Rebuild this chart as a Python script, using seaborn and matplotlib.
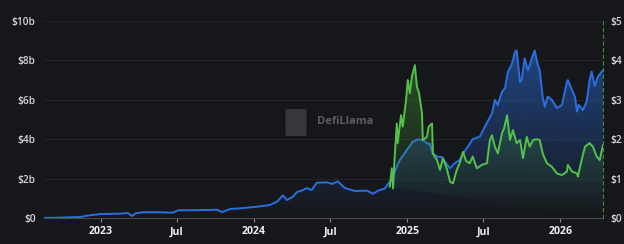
import numpy as np
import pandas as pd
import matplotlib
matplotlib.use("Agg")
import matplotlib.pyplot as plt
import matplotlib.dates as mdates
import seaborn as sns
from matplotlib.patches import PathPatch
from matplotlib.path import Path

# ---- data ----
tvl_dates = ["2022-08-18", "2022-09-25", "2022-11-12", "2022-11-29", "2022-12-30", "2023-02-15",
             "2023-03-06", "2023-03-16", "2023-03-25", "2023-04-11", "2023-05-22", "2023-06-22",
             "2023-07-04", "2023-08-25", "2023-10-05", "2023-10-17", "2023-11-05", "2023-11-29",
             "2024-01-08", "2024-02-08", "2024-02-25", "2024-03-10", "2024-03-20", "2024-04-03",
             "2024-04-13", "2024-04-24", "2024-05-06", "2024-05-18", "2024-05-30", "2024-06-23",
             "2024-07-05", "2024-07-19", "2024-08-05", "2024-08-29", "2024-09-27", "2024-10-11",
             "2024-10-23", "2024-11-08", "2024-11-16", "2024-11-25", "2024-12-07", "2024-12-14",
             "2024-12-31", "2025-01-14", "2025-01-26", "2025-02-07", "2025-02-17", "2025-02-24",
             "2025-03-03", "2025-03-15", "2025-03-24", "2025-04-01", "2025-04-13", "2025-04-24",
             "2025-05-06", "2025-05-14", "2025-05-23", "2025-06-06", "2025-06-23", "2025-07-05",
             "2025-07-22", "2025-07-29", "2025-08-05", "2025-08-15", "2025-08-22", "2025-08-29",
             "2025-09-07", "2025-09-15", "2025-09-19", "2025-09-27", "2025-10-01", "2025-10-08",
             "2025-10-16", "2025-10-25", "2025-11-01", "2025-11-08", "2025-11-13", "2025-11-20",
             "2025-11-25", "2025-12-02", "2025-12-12", "2025-12-24", "2026-01-05", "2026-01-17",
             "2026-01-19", "2026-01-29", "2026-02-05", "2026-02-10", "2026-02-14", "2026-02-24",
             "2026-03-05", "2026-03-12", "2026-03-17", "2026-03-24", "2026-04-01", "2026-04-10",
             "2026-04-13"]
tvl_values = [0.0, 0.02, 0.05, 0.12, 0.2, 0.22,
              0.25, 0.1, 0.24, 0.29, 0.29, 0.27,
              0.39, 0.4, 0.42, 0.3, 0.46, 0.49,
              0.57, 0.66, 0.83, 1.15, 0.91, 1.08,
              1.32, 1.39, 1.52, 1.42, 1.79, 1.81,
              1.73, 1.86, 1.52, 1.37, 1.39, 1.23,
              1.39, 1.49, 1.73, 1.93, 2.6, 2.94,
              3.45, 3.87, 3.99, 3.96, 3.79, 3.76,
              3.25, 3.11, 3.1, 2.86, 2.52, 2.78,
              2.94, 3.28, 3.54, 4.0, 4.13, 4.63,
              5.31, 5.99, 5.74, 6.41, 6.58, 7.43,
              7.77, 8.44, 8.5, 6.9, 7.0, 8.1,
              7.5, 8.1, 8.5, 7.8, 7.5, 6.16,
              5.65, 6.16, 6.0, 5.58, 5.74, 6.92,
              7.0, 6.5, 6.16, 5.4, 5.74, 5.48,
              5.9, 7.0, 7.43, 6.7, 7.17, 7.43,
              7.5]

price_dates = ["2024-11-20", "2024-11-25", "2024-11-28", "2024-12-02", "2024-12-07", "2024-12-09",
               "2024-12-17", "2024-12-21", "2024-12-29", "2025-01-02", "2025-01-07", "2025-01-12",
               "2025-01-19", "2025-01-24", "2025-01-29", "2025-02-05", "2025-02-07", "2025-02-17",
               "2025-02-21", "2025-03-01", "2025-03-03", "2025-03-13", "2025-03-20", "2025-03-27",
               "2025-04-05", "2025-04-13", "2025-04-20", "2025-04-29", "2025-05-06", "2025-05-14",
               "2025-05-21", "2025-05-30", "2025-06-06", "2025-06-16", "2025-06-28", "2025-07-10",
               "2025-07-17", "2025-07-22", "2025-07-29", "2025-08-05", "2025-08-15", "2025-08-20",
               "2025-08-27", "2025-09-03", "2025-09-10", "2025-09-19", "2025-09-27", "2025-10-04",
               "2025-10-13", "2025-10-20", "2025-10-28", "2025-11-06", "2025-11-13", "2025-11-20",
               "2025-11-30", "2025-12-12", "2025-12-24", "2026-01-05", "2026-01-17", "2026-01-19",
               "2026-01-29", "2026-02-10", "2026-02-12", "2026-02-21", "2026-03-01", "2026-03-12",
               "2026-03-20", "2026-03-29", "2026-04-05", "2026-04-13"]
price_values = [0.79, 1.26, 0.75, 1.56, 2.4, 1.9,
                2.61, 2.32, 2.99, 3.5, 3.17, 3.59,
                3.88, 3.33, 3.17, 2.66, 1.98, 2.06,
                2.32, 2.4, 1.64, 1.47, 1.22, 1.52,
                1.26, 0.92, 0.88, 1.22, 1.39, 1.68,
                1.45, 1.39, 1.56, 1.26, 1.35, 1.39,
                1.98, 2.1, 1.81, 1.64, 2.15, 2.28,
                2.61, 1.98, 2.23, 1.9, 1.98, 1.52,
                2.06, 1.81, 1.98, 2.0, 1.98, 1.64,
                1.39, 1.3, 1.13, 1.09, 1.18, 1.35,
                1.18, 1.13, 1.05, 1.47, 1.81, 1.9,
                1.81, 1.56, 1.47, 1.85]

left_ticks = [0, 2, 4, 6, 8, 10]
left_labels = ["$0", "$2b", "$4b", "$6b", "$8b", "$10b"]
right_ticks = [0, 1, 2, 3, 4, 5]
right_labels = ["$0", "$1", "$2", "$3", "$4", "$5"]
x_tick_dates = ["2023-01-01", "2023-07-01", "2024-01-01", "2024-07-01",
                "2025-01-01", "2025-07-01", "2026-01-01"]
x_tick_labels = ["2023", "Jul", "2024", "Jul", "2025", "Jul", "2026"]

# ---- style ----
BG = "#16171a"
BLUE = "#2a6fe0"
GREEN = "#52c24a"
TXT = "#d4d5d8"
GRID = "#222327"

sns.set_theme(style="dark")
plt.rcParams["font.family"] = ["Open Sans", "DejaVu Sans"]

tvl = pd.DataFrame({"date": pd.to_datetime(tvl_dates), "value": tvl_values})
price = pd.DataFrame({"date": pd.to_datetime(price_dates), "value": price_values})

fig = plt.figure(figsize=(6.24, 2.44), dpi=100, facecolor=BG)
ax = fig.add_axes([44 / 624, 1 - 218 / 244, (603 - 44) / 624, (218 - 21) / 244])
ax.set_facecolor(BG)
ax2 = ax.twinx()

xmin = pd.Timestamp("2022-08-18")
xmax = pd.Timestamp("2026-04-13")


def gradient_fill(axis, df, rgb, a_top, a_bot, ytop, z):
    x = mdates.date2num(df["date"])
    y = df["value"].to_numpy()
    n = 256
    alphas = np.linspace(a_bot, a_top, n)
    img = np.zeros((n, 1, 4))
    img[:, 0, :3] = matplotlib.colors.to_rgb(rgb)
    img[:, 0, 3] = alphas
    im = axis.imshow(img, aspect="auto", origin="lower",
                     extent=[x.min(), x.max(), 0, ytop], zorder=z, interpolation="bilinear")
    verts = np.vstack([np.column_stack([x, y]), [[x.max(), 0], [x.min(), 0]]])
    path = Path(verts, closed=True)
    patch = PathPatch(path, facecolor="none", edgecolor="none", transform=axis.transData)
    axis.add_patch(patch)
    im.set_clip_path(patch)


gradient_fill(ax, tvl, "#2a6fe0", 0.62, 0.0, 10, 1)
sns.lineplot(data=tvl, x="date", y="value", ax=ax, color=BLUE, linewidth=1.4, zorder=3)
gradient_fill(ax2, price, "#4aa83c", 0.5, 0.0, 5, 1)
sns.lineplot(data=price, x="date", y="value", ax=ax2, color=GREEN, linewidth=1.4, zorder=3)

for a in (ax, ax2):
    a.set_xlim(xmin, xmax)
    a.set_xlabel("")
    a.set_ylabel("")
    for s in a.spines.values():
        s.set_visible(False)

ax.set_ylim(0, 10)
ax2.set_ylim(0, 5)
ax.set_yticks(left_ticks)
ax.set_yticklabels(left_labels)
ax2.set_yticks(right_ticks)
ax2.set_yticklabels(right_labels)
ax.set_xticks(pd.to_datetime(x_tick_dates))
ax.set_xticklabels(x_tick_labels)

ax.grid(axis="y", color=GRID, linewidth=0.8)
ax.grid(axis="x", visible=False)
ax2.grid(False)

ax.tick_params(axis="y", length=0, pad=6, labelsize=7.3, labelcolor=TXT)
ax2.tick_params(axis="y", length=0, pad=5, labelsize=7.3, labelcolor=TXT)
ax.tick_params(axis="x", length=3, width=0.8, color="#8a8b8e", pad=3,
               labelsize=7.6, labelcolor="#f0f0f0", direction="out", bottom=True)
for lbl in ax.get_xticklabels():
    lbl.set_fontweight("bold")
for lbl in ax.get_yticklabels() + ax2.get_yticklabels():
    lbl.set_fontweight("semibold")

ax.spines["bottom"].set_visible(True)
ax.spines["bottom"].set_color("#4a4b4f")
ax.spines["bottom"].set_linewidth(0.8)
ax2.spines["right"].set_visible(True)
ax2.spines["right"].set_color("#3d8a3a")
ax2.spines["right"].set_linestyle((0, (3, 3)))
ax2.spines["right"].set_linewidth(0.8)

# watermark
fig.text(317 / 624, 1 - 122 / 244, "DefiLlama", color="#5c5d60", fontsize=8, fontweight="bold",
         ha="left", va="center")
logo = matplotlib.patches.FancyBboxPatch((288 / 624, 1 - 135 / 244), 16 / 624, 25 / 244,
                                         boxstyle="round,pad=0.004", transform=fig.transFigure,
                                         facecolor="#37383b", edgecolor="none")
fig.patches.append(logo)

fig.savefig("out.png", dpi=100, facecolor=BG)
